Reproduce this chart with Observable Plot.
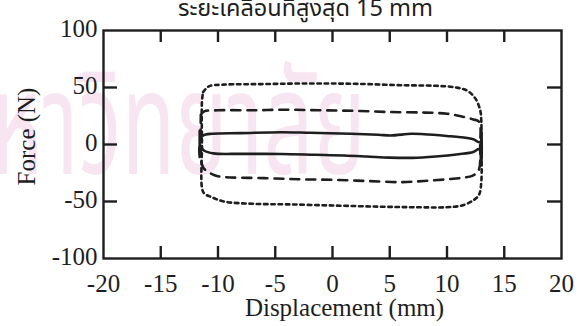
<!DOCTYPE html>
<html>
<head>
<meta charset="utf-8">
<script src="https://cdn.jsdelivr.net/npm/d3@7"></script>
<script src="https://cdn.jsdelivr.net/npm/@observablehq/plot@0.6"></script>
<style>
  html, body { margin: 0; padding: 0; background: #fff; }
  #wrap { position: relative; width: 587px; height: 326px; overflow: hidden; }
  #mark {
    position: absolute; left: -9px; top: 0; margin: 0;
    font: 88px 'Noto Sans Thai', 'Noto Sans', sans-serif; line-height: 1;
    color: #f7e6f1; white-space: nowrap;
    transform-origin: 0 0; transform: translateY(58px) scaleY(1.65);
  }
  #chart { position: absolute; left: 0; top: 0; }
</style>
</head>
<body>
<div id="wrap">
  <div id="mark"></div>
  <div id="chart"></div>
</div>
<script>
// Hysteresis loops, force vs. displacement, maximum displacement 15 mm.
const titleText = "ระยะเคลื่อนที่สูงสุด 15 mm";
const markText = "หาวิทยาลัย";
const xLabel = "Displacement (mm)";
const yLabel = "Force (N)";
const xTicks = [-20, -15, -10, -5, 0, 5, 10, 15, 20];
const yTicks = [-100, -50, 0, 50, 100];

// outer loop (dotted), traced clockwise from the upper left corner
const dottedLoop = [
  [-11.3, 46], [-10.8, 51], [-9.5, 52.5], [-6, 53], [-3, 53.5], [0, 53.5], [3, 53],
  [6, 52], [9, 51.5], [10.8, 50], [11.8, 47], [12.5, 40], [12.9, 30], [13, 20],
  [13, 0], [13, -32], [12.8, -44], [12.3, -49], [11.3, -53.5], [10, -55], [7, -55],
  [4, -54.5], [0, -53.5], [-4, -52.5], [-7, -52], [-9.5, -50], [-10.6, -46],
  [-11.2, -43], [-11.4, -38], [-11.4, 0], [-11.4, 38], [-11.3, 46]
];

// middle loop (dashed)
const dashedLoop = [
  [-11.5, 26], [-11.2, 29], [-10, 30], [-7, 30], [-4, 30.5], [-1, 30], [2, 29.5],
  [5, 28.5], [8, 28], [10, 27], [11.3, 24.5], [12.3, 22], [12.8, 20], [12.9, 0],
  [12.75, -23], [12.2, -27.5], [11.5, -29], [10, -30.5], [8, -32], [6, -33],
  [3, -32], [0, -31], [-3, -30.5], [-6, -29.5], [-9.5, -28.5], [-10.3, -27],
  [-11.3, -20], [-11.5, 0], [-11.5, 26]
];

// inner loop (solid), with the short vertical strokes at both reversal points
const solidLoop = [
  [-11.6, 4], [-11.3, 8], [-10.5, 9.5], [-8, 10], [-4.5, 10.8], [-2, 10.3],
  [1.6, 9.4], [4, 8.5], [5.1, 7.9], [6.9, 9.4], [8, 9], [10, 7.5], [11.2, 6.4],
  [12.3, 4.5], [12.9, 2], [13, 14], [13, -18], [12.8, -4], [12.3, -6.5],
  [11, -8.5], [9, -10.5], [7, -11.7], [5, -11.5], [3, -10.5], [1, -9.6],
  [-1.5, -9], [-4.5, -8.3], [-8, -8.2], [-10.4, -7.8], [-11.2, -5.5], [-11.6, -1],
  [-11.6, -11], [-11.6, 12], [-11.6, 4]
];

const ink = "#1e1e1e";
const serif = "'Liberation Serif', 'Times New Roman', serif";
const thai = "'Noto Sans Thai', 'Liberation Sans', Arial, sans-serif";
const innerW = 587 - 103 - 26;
const innerH = 326 - 30 - 68;
const fmt = d => String(d);

const lineOpts = {
  x: d => d[0], y: d => d[1], stroke: ink, strokeWidth: 2.6,
  strokeLinejoin: "round", curve: "catmull-rom"
};

document.getElementById("mark").textContent = markText;

const chart = Plot.plot({
  width: 587,
  height: 326,
  marginLeft: 103,
  marginRight: 26,
  marginTop: 30,
  marginBottom: 68,
  style: "background: transparent; overflow: hidden; font-family: 'Liberation Serif', 'Times New Roman', serif;",
  x: { domain: [-20, 20], ticks: xTicks },
  y: { domain: [-100, 100], ticks: yTicks },
  marks: [
    // title
    Plot.text([titleText], {
      frameAnchor: "top", dx: -27, dy: -15, lineAnchor: "bottom", textAnchor: "middle",
      fontSize: 23.5, fill: ink
    }),
    Plot.line(dottedLoop, { ...lineOpts, strokeDasharray: "3.5,3.8" }),
    Plot.line(dashedLoop, { ...lineOpts, strokeDasharray: "9,7" }),
    Plot.line(solidLoop, lineOpts),
    Plot.frame({ stroke: ink, strokeWidth: 2.4 }),
    // inward tick marks on all four sides
    Plot.tickX(xTicks.slice(1, -1), { x: d => d, stroke: ink, strokeWidth: 2.4, insetTop: innerH - 12 }),
    Plot.tickX(xTicks.slice(1, -1), { x: d => d, stroke: ink, strokeWidth: 2.4, insetBottom: innerH - 12 }),
    Plot.tickY(yTicks.slice(1, -1), { y: d => d, stroke: ink, strokeWidth: 2.4, insetRight: innerW - 14 }),
    Plot.tickY(yTicks.slice(1, -1), { y: d => d, stroke: ink, strokeWidth: 2.4, insetLeft: innerW - 14 }),
    Plot.axisX({ ticks: xTicks, tickFormat: fmt, tickSize: 0, tickPadding: 16, fontSize: 25, fill: ink, label: null }),
    Plot.axisY({ ticks: yTicks, tickFormat: fmt, tickSize: 0, tickPadding: 6, fontSize: 25, fill: ink, dy: -2, label: null }),
    Plot.text([yLabel], { frameAnchor: "left", textAnchor: "middle", lineAnchor: "middle", dx: -77, dy: -8, rotate: -90, fontSize: 25, fill: ink }),
    Plot.text([xLabel], { frameAnchor: "bottom", textAnchor: "middle", lineAnchor: "middle", dx: 12, dy: 49, fontSize: 25, fill: ink })
  ]
});

// serif face for every label, the Thai face for the title
d3.select(chart).selectAll("g, text")
  .style("font-family", serif)
  .style("font-variant", "normal");
d3.select(chart).selectAll("text")
  .filter(function() { return this.textContent === titleText; })
  .style("font-family", thai);

document.getElementById("chart").appendChild(chart);
</script>
</body>
</html>
